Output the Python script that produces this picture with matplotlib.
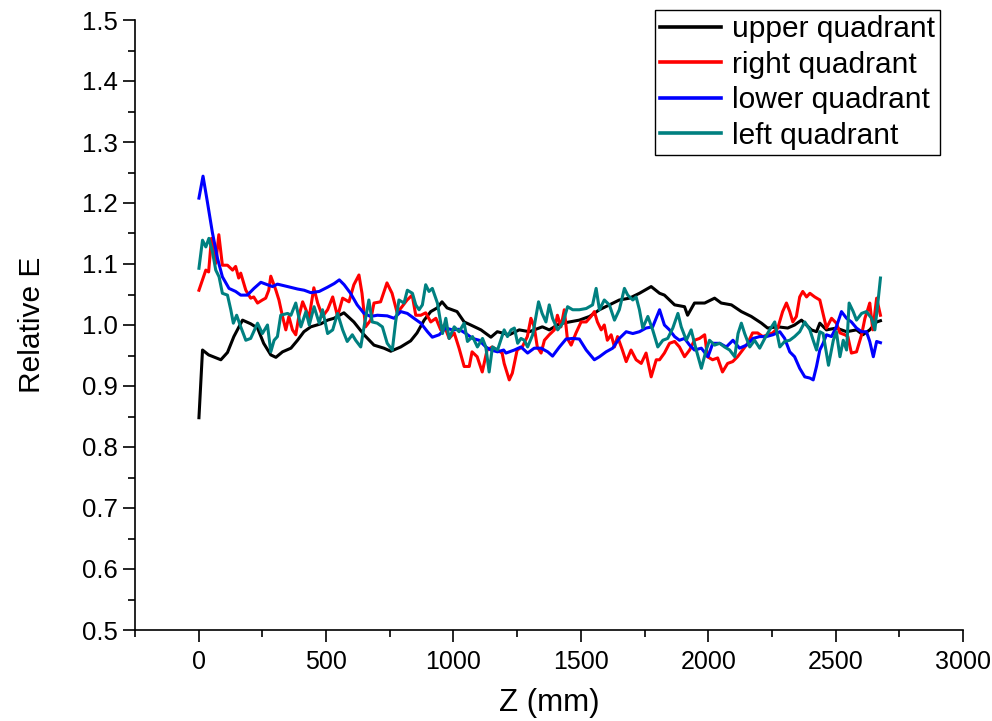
import matplotlib
matplotlib.use("Agg")
import matplotlib.pyplot as plt
from matplotlib.ticker import MultipleLocator

plt.rcParams['font.family'] = ['Liberation Sans', 'DejaVu Sans']

# ---------------- data ----------------
upper_z = [1, 15, 39, 87, 113, 138, 172, 204, 231, 255, 283, 303, 329, 362, 388, 413, 440, 480, 506, 531,
           570, 609, 649, 688, 727, 754, 793, 832, 857, 885, 911, 936, 955, 975, 1014, 1042, 1068, 1108, 1147, 1172,
           1219, 1258, 1298, 1349, 1376, 1416, 1455, 1494, 1534, 1573, 1612, 1651, 1691, 1730, 1776,
           1809, 1828, 1868, 1907, 1919, 1946, 1986, 2025, 2051, 2091, 2130, 2169, 2209, 2233, 2273, 2312, 2339,
           2366, 2405, 2425, 2438, 2464, 2503, 2543, 2582, 2607, 2634, 2661, 2676]
upper_e = [0.848, 0.959, 0.951, 0.943, 0.955, 0.981, 1.008, 1.002, 0.995, 0.970, 0.951, 0.947, 0.956, 0.962, 0.975,
           0.989, 0.997, 1.002, 1.008, 1.011,
           1.020, 1.005, 0.984, 0.967, 0.962, 0.957, 0.964, 0.974, 0.987, 1.008, 1.022, 1.028, 1.038, 1.028, 1.022,
           1.005, 1.000, 0.992, 0.980, 0.989,
           0.984, 0.992, 0.989, 0.997, 0.992, 1.002, 1.005, 1.008, 1.014, 1.025, 1.033, 1.041, 1.044, 1.052, 1.063,
           1.052, 1.049, 1.033, 1.030, 1.016, 1.036, 1.036, 1.044, 1.036, 1.033, 1.022, 1.014, 1.003, 0.995, 0.997,
           0.995, 1.000, 1.008, 0.992, 0.989, 1.003, 0.992, 0.995, 0.989, 0.992, 0.984, 0.992, 1.005, 1.007]

right_z = [1, 28, 39, 50, 67, 79, 93, 113, 133, 145, 157, 165, 185, 204, 216, 231, 250, 263, 275, 283, 303, 315,
           329, 342, 354, 368, 381, 393, 408, 421, 433, 452, 467, 486, 506, 526, 545, 565,
           590, 609, 629, 641, 655, 675, 688, 714, 739, 759, 779, 798, 818, 838, 852, 872, 891, 911, 931, 950, 963,
           983, 1003, 1022, 1042, 1062, 1073, 1093, 1113, 1132, 1152, 1172, 1191,
           1199, 1219, 1231, 1250, 1270, 1290, 1304, 1317, 1329, 1344, 1357, 1376, 1396, 1408, 1422, 1435, 1447,
           1462, 1481, 1501, 1521, 1540, 1553, 1565, 1580, 1592, 1604, 1619, 1632, 1644, 1663, 1678, 1697, 1717,
           1737, 1756, 1776, 1796,
           1809, 1828, 1848, 1868, 1887, 1907, 1927, 1946, 1966, 1986, 1997, 2017, 2037, 2056, 2076, 2096, 2115,
           2135, 2155, 2174, 2194, 2214, 2233, 2253, 2273, 2292, 2307, 2320, 2332, 2346, 2359, 2371, 2386, 2399,
           2418, 2438, 2450, 2464, 2484, 2503, 2517, 2536, 2548, 2562, 2582, 2602, 2615, 2626, 2634, 2646, 2661, 2676]
right_e = [1.057, 1.090, 1.087, 1.142, 1.101, 1.148, 1.098, 1.098, 1.090, 1.096, 1.077, 1.085, 1.057, 1.044, 1.046,
           1.036, 1.041, 1.044, 1.057, 1.080, 1.057, 1.041,
           1.014, 0.992, 1.014, 0.992, 0.984, 1.014, 1.038, 1.025, 1.011, 1.061, 1.036, 1.014, 1.025, 1.046, 1.014,
           1.044,
           1.038, 1.066, 1.082, 1.052, 0.997, 1.008, 1.036, 1.038, 1.069, 1.052, 1.020, 1.030, 1.041, 1.049, 1.016,
           1.016, 1.020, 1.005, 1.011, 0.992, 1.000,
           0.978, 0.987, 0.962, 0.932, 0.932, 0.956, 0.948, 0.923, 0.959, 0.964, 0.959, 0.954,
           0.937, 0.910, 0.921, 0.959, 0.964, 0.981, 1.011, 0.997, 0.964, 0.954, 0.975, 0.984, 0.992, 1.016, 0.997,
           1.025, 0.978,
           0.967, 0.987, 1.005, 1.005, 1.014, 1.022, 1.005, 0.992, 1.000, 0.975, 0.984, 0.964, 0.981, 0.959, 0.940,
           0.959, 0.943,
           0.937, 0.954, 0.915, 0.943,
           0.943, 0.954, 0.970, 0.973, 0.964, 0.948, 0.959, 0.975, 0.978, 0.984, 0.948, 0.943, 0.946, 0.923, 0.937,
           0.940, 0.948,
           0.959, 0.970, 0.987, 0.987, 0.981, 0.984, 0.987, 0.995, 1.022, 1.036, 1.022, 1.005, 1.014, 1.046, 1.055,
           1.046, 1.052,
           1.046, 1.041, 1.020, 0.995, 1.011, 1.003, 0.987, 0.984, 0.981, 0.954, 0.956, 0.984, 1.011, 1.025, 1.036,
           0.992, 1.044, 1.016]

lower_z = [1, 17, 34, 54, 74, 93, 119, 145, 165, 191, 217, 244, 270, 290, 309, 349, 388, 414, 440, 473, 506, 532,
           552, 571, 596, 622, 649, 675, 701, 740, 767, 793, 819, 845, 872, 898, 917, 944, 970, 996, 1022, 1049,
           1075, 1101, 1127, 1147, 1173, 1197,
           1206, 1239, 1265, 1291, 1317, 1344, 1370, 1389, 1416, 1442, 1468, 1494, 1521, 1553, 1573, 1599, 1625,
           1651, 1678, 1704, 1730, 1756, 1782,
           1809, 1828, 1848, 1868, 1887, 1907, 1927, 1946, 1973, 1999, 2018, 2045, 2071, 2097, 2123, 2150, 2176,
           2202, 2228, 2254, 2281, 2300, 2320, 2339, 2359, 2379, 2399,
           2412, 2425, 2438, 2451, 2464, 2484, 2503, 2523, 2543, 2562, 2582, 2602, 2621, 2634, 2648, 2661, 2676]
lower_e = [1.208, 1.244, 1.202, 1.151, 1.109, 1.079, 1.060, 1.055, 1.049, 1.049, 1.060, 1.070, 1.066, 1.063, 1.067,
           1.063, 1.059, 1.057, 1.053, 1.055, 1.062, 1.068,
           1.074, 1.066, 1.052, 1.033, 1.019, 1.014, 1.016, 1.015, 1.011, 1.022, 1.019, 1.011, 1.003, 0.989, 0.980,
           0.984, 0.995, 0.992, 0.993, 0.986,
           0.978, 0.975, 0.964, 0.959, 0.956, 0.959,
           0.954, 0.959, 0.964, 0.954, 0.962, 0.962, 0.956, 0.949, 0.964, 0.977, 0.978, 0.977, 0.959, 0.943, 0.948,
           0.956, 0.962,
           0.978, 0.989, 0.986, 0.989, 0.995, 0.997,
           1.025, 1.000, 0.992, 0.981, 0.975, 0.978, 0.967, 0.959, 0.962, 0.948, 0.970, 0.970, 0.964, 0.975, 0.962,
           0.967, 0.978,
           0.981, 0.981, 0.984, 0.989, 0.978, 0.956, 0.948, 0.929, 0.915, 0.913,
           0.910, 0.932, 0.959, 0.970, 0.984, 0.981, 0.997, 1.022, 1.011, 1.005, 0.995, 0.989, 0.989, 0.973, 0.948,
           0.973, 0.971]

left_z = [1, 15, 28, 40, 54, 67, 80, 93, 113, 126, 136, 149, 165, 185, 204, 231, 250, 270, 283, 296, 309, 322,
          349, 362, 381, 401, 421, 434, 453, 473, 486, 506, 526, 545, 565,
          583, 603, 616, 636, 649, 668, 681, 701, 721, 740, 760, 773, 786, 806, 819, 839, 852, 865, 878, 891, 904,
          917, 937, 957, 970, 983, 1003, 1022, 1042, 1055, 1075, 1094, 1114, 1127, 1140, 1153, 1173,
          1199, 1212, 1226, 1239, 1252, 1265, 1278, 1291, 1311, 1324, 1334, 1348, 1363, 1376, 1389, 1409, 1429,
          1448, 1468, 1494, 1521, 1546, 1560, 1573, 1592, 1612, 1632, 1651, 1671, 1684, 1704, 1717, 1730, 1743,
          1763, 1782,
          1802, 1822, 1841, 1861, 1881, 1894, 1914, 1933, 1953, 1973, 1992, 2005, 2025, 2045, 2064, 2084, 2104,
          2117, 2130, 2143, 2163, 2182, 2202, 2222, 2241, 2261, 2281, 2300, 2320, 2339, 2359, 2379, 2399,
          2412, 2425, 2438, 2451, 2472, 2491, 2503, 2517, 2530, 2543, 2553, 2569, 2582, 2602, 2621, 2641, 2654,
          2667, 2676]
left_e = [1.093, 1.139, 1.128, 1.142, 1.120, 1.090, 1.079, 1.052, 1.049, 1.025, 1.003, 1.016, 0.997, 0.975, 0.978,
          1.003, 0.986, 1.000, 0.956, 0.975, 0.981, 1.016,
          1.019, 1.016, 1.036, 0.997, 1.022, 1.000, 1.030, 1.003, 1.025, 0.986, 0.992, 1.019, 0.992,
          0.973, 0.984, 0.975, 0.964, 0.997, 1.041, 1.005, 1.003, 0.997, 0.970, 0.959, 1.005, 1.041, 1.036, 1.057,
          1.052, 1.033, 1.025, 1.033, 1.066, 1.055,
          1.060, 1.036, 0.986, 1.011, 0.978, 0.997, 0.989, 1.003, 0.973, 0.981, 0.964, 0.978, 0.964, 0.923, 0.964,
          0.959,
          0.992, 0.981, 0.992, 0.995, 0.970, 0.978, 0.975, 0.964, 0.984, 1.014, 1.038, 1.019, 1.005, 1.033, 1.011,
          0.992, 1.003,
          1.030, 1.025, 1.025, 1.027, 1.033, 1.060, 1.025, 1.041, 1.033, 1.008, 1.025, 1.060, 1.049, 1.041, 1.046,
          1.025, 0.995,
          1.014, 0.992,
          0.964, 0.975, 0.978, 0.995, 1.019, 0.997, 0.975, 0.992, 0.959, 0.929, 0.959, 0.975, 0.967, 0.970, 0.964,
          0.959, 0.948,
          0.986, 1.003, 0.986, 0.964, 0.975, 0.962, 0.978, 0.992, 1.005, 0.964, 0.973, 0.975, 0.981, 0.989, 1.005,
          0.992,
          0.975, 0.959, 0.989, 0.986, 0.934, 0.975, 0.989, 0.948, 0.975, 0.959, 1.036, 1.022, 1.008, 1.019, 1.022,
          1.011, 0.992, 1.041, 1.077]

series_labels = ["upper quadrant", "right quadrant", "lower quadrant", "left quadrant"]
series_colors = ["#000000", "#ff0000", "#0000ff", "#008080"]

x_label = "Z (mm)"
y_label = "Relative E"

# ---------------- figure ----------------
W, H = 992, 721
fig = plt.figure(figsize=(W / 100, H / 100), dpi=100)
ax = fig.add_axes([135 / W, 1 - 630 / H, (963 - 135) / W, (630 - 20) / H])

for zs, es, lab, col in zip([upper_z, right_z, lower_z, left_z],
                            [upper_e, right_e, lower_e, left_e],
                            series_labels, series_colors):
    ax.plot(zs, es, color=col, lw=2.2, label=lab)

ax.set_xlim(-250, 3000)
ax.set_ylim(0.5, 1.5)
ax.xaxis.set_major_locator(MultipleLocator(500))
ax.xaxis.set_minor_locator(MultipleLocator(250))
ax.yaxis.set_major_locator(MultipleLocator(0.1))
ax.yaxis.set_minor_locator(MultipleLocator(0.05))
ax.yaxis.set_major_formatter(matplotlib.ticker.FormatStrFormatter('%.1f'))

for s in ['top', 'right']:
    ax.spines[s].set_visible(False)
for s in ['left', 'bottom']:
    ax.spines[s].set_linewidth(1.2)

ax.tick_params(which='major', direction='out', length=8.5, width=1.2, pad=4)
ax.tick_params(which='minor', direction='out', length=5, width=1.2)
ax.tick_params(axis='y', labelsize=18.5)
ax.tick_params(axis='x', labelsize=18, pad=6)

ax.set_xlabel(x_label, fontsize=22.5, labelpad=10)
ax.set_ylabel(y_label, fontsize=21.5, labelpad=26)

leg = ax.legend(loc='upper right', bbox_to_anchor=(940 / W, 1 - 10 / H),
                bbox_transform=fig.transFigure, fontsize=21.5, frameon=True,
                fancybox=False, edgecolor='black', framealpha=1,
                handlelength=2.05, handletextpad=0.35, labelspacing=0.25,
                borderpad=0.18, borderaxespad=0)
leg.get_frame().set_linewidth(1.0)
for ln in leg.get_lines():
    ln.set_linewidth(2.6)

fig.savefig("out.png", dpi=100)
